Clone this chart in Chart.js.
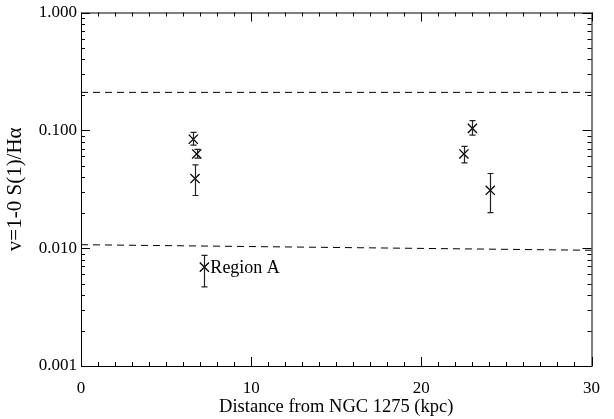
<!DOCTYPE html>
<html>
<head>
<meta charset="utf-8">
<script src="https://cdn.jsdelivr.net/npm/chart.js@4.4.0/dist/chart.umd.min.js"></script>
<style>
  html, body { margin: 0; padding: 0; background: #fff; }
  #wrap { width: 614px; height: 419px; }
</style>
</head>
<body>
<div id="wrap"><canvas id="c" width="614" height="419"></canvas></div>
<script>
// measured points (distance in kpc, ratio)
const pointX = [6.6, 6.8, 6.7, 23.0, 22.5, 24.05];
const pointY = [0.084, 0.063, 0.039, 0.104, 0.063, 0.031];
const errLow = [0.075, 0.058, 0.028, 0.091, 0.053, 0.020];
const errHigh = [0.096, 0.069, 0.051, 0.121, 0.073, 0.043];

const regionX = [7.25];
const regionY = [0.0069];
const regionLow = [0.0047];
const regionHigh = [0.0087];

const lineX = [0, 30];
const upperLineY = [0.21, 0.21];
const lowerLineY = [0.0107, 0.0096];

const yTicks = [0.001, 0.01, 0.1, 1];
const xTicks = [0, 10, 20, 30];

const serif = 'Liberation Serif';

const toXY = (xs, ys) => xs.map((x, i) => ({x: x, y: ys[i]}));

// error bars with caps, plus the region label
const errorBars = {
  id: 'errorBars',
  afterDatasetsDraw(chart) {
    const {ctx, scales: {x, y}} = chart;
    ctx.save();
    ctx.strokeStyle = '#222';
    ctx.lineWidth = 1.2;
    const draw = (xs, lo, hi) => {
      xs.forEach((v, i) => {
        const px = Math.round(x.getPixelForValue(v)) + 0.5;
        const top = y.getPixelForValue(hi[i]);
        const bot = y.getPixelForValue(lo[i]);
        ctx.beginPath();
        ctx.moveTo(px, top); ctx.lineTo(px, bot);
        ctx.moveTo(px - 3, top); ctx.lineTo(px + 3, top);
        ctx.moveTo(px - 3, bot); ctx.lineTo(px + 3, bot);
        ctx.stroke();
      });
    };
    draw(pointX, errLow, errHigh);
    draw(regionX, regionLow, regionHigh);
    ctx.fillStyle = '#000';
    ctx.font = '18px "' + serif + '"';
    ctx.textBaseline = 'middle';
    ctx.fillText('Region A', x.getPixelForValue(regionX[0]) + 6, y.getPixelForValue(regionY[0]) + 1);
    ctx.restore();
  }
};

// IDL-like frame with inward ticks on all four sides
const frameTicks = {
  id: 'frameTicks',
  afterDraw(chart) {
    const {ctx, chartArea: a, scales: {x, y}} = chart;
    ctx.save();
    ctx.strokeStyle = '#000';
    ctx.lineWidth = 1;
    ctx.strokeRect(a.left + 0.5, a.top + 0.5, a.right - a.left, a.bottom - a.top);
    ctx.beginPath();
    for (let v = 0; v <= 30; v++) {
      const px = Math.round(x.getPixelForValue(v)) + 0.5;
      const len = v % 10 === 0 ? 9 : 4;
      ctx.moveTo(px, a.bottom); ctx.lineTo(px, a.bottom - len);
      ctx.moveTo(px, a.top); ctx.lineTo(px, a.top + len);
    }
    for (let d = -3; d <= 0; d++) {
      for (let m = 1; m <= 9; m++) {
        const v = m * Math.pow(10, d);
        if (v > 1.0001) break;
        const py = Math.round(y.getPixelForValue(v)) + 0.5;
        const len = m === 1 ? 9 : 4;
        ctx.moveTo(a.left, py); ctx.lineTo(a.left + len, py);
        ctx.moveTo(a.right, py); ctx.lineTo(a.right - len, py);
      }
    }
    ctx.stroke();
    ctx.restore();
  }
};

new Chart(document.getElementById('c'), {
  type: 'scatter',
  data: {
    datasets: [
      {
        data: toXY(pointX, pointY),
        pointStyle: 'crossRot',
        pointRadius: 6.5,
        pointBorderWidth: 1.3,
        borderColor: '#000',
        backgroundColor: '#000'
      },
      {
        data: toXY(regionX, regionY),
        pointStyle: 'crossRot',
        pointRadius: 6.5,
        pointBorderWidth: 1.3,
        borderColor: '#000',
        backgroundColor: '#000'
      },
      {
        type: 'line',
        data: toXY(lineX, upperLineY),
        borderColor: '#000',
        borderWidth: 1,
        borderDash: [7, 5],
        pointRadius: 0,
        fill: false
      },
      {
        type: 'line',
        data: toXY(lineX, lowerLineY),
        borderColor: '#000',
        borderWidth: 1,
        borderDash: [7, 5],
        pointRadius: 0,
        fill: false
      }
    ]
  },
  options: {
    responsive: false,
    animation: false,
    events: [],
    layout: { padding: { top: 12, right: 19, left: 0, bottom: 0 } },
    plugins: { legend: { display: false }, tooltip: { enabled: false } },
    scales: {
      x: {
        type: 'linear',
        min: 0,
        max: 30,
        afterBuildTicks: s => { s.ticks = xTicks.map(v => ({value: v})); },
        afterFit: s => { s.height = 53; },
        grid: { display: false, drawTicks: false },
        border: { display: false },
        ticks: { color: '#000', padding: 14, maxRotation: 0, font: { family: serif, size: 17, lineHeight: 1 } },
        title: { display: true, text: 'Distance from NGC 1275 (kpc)', color: '#000', padding: { top: 0, bottom: 2.5 }, font: { family: serif, size: 18.5, lineHeight: 1 } }
      },
      y: {
        type: 'logarithmic',
        min: 0.001,
        max: 1,
        afterBuildTicks: s => { s.ticks = yTicks.map(v => ({value: v})); },
        afterFit: s => { s.width = 81; },
        grid: { display: false, drawTicks: false },
        border: { display: false },
        ticks: { color: '#000', padding: 4, callback: v => Number(v).toFixed(3), font: { family: serif, size: 17, lineHeight: 1 } },
        title: { display: true, text: 'v=1-0 S(1)/Hα', color: '#000', padding: { top: 4.5, bottom: 0 }, font: { family: serif, size: 21, lineHeight: 1 } }
      }
    }
  },
  plugins: [errorBars, frameTicks]
});
</script>
</body>
</html>
